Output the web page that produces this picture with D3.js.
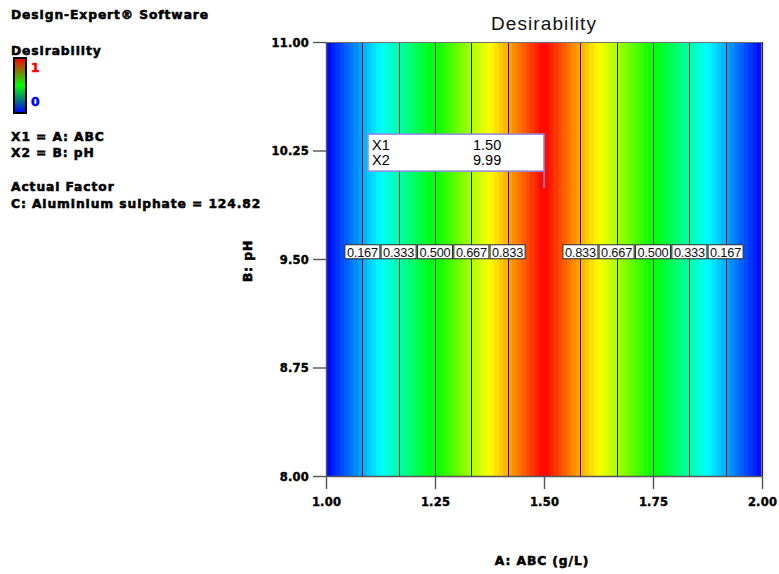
<!DOCTYPE html>
<html>
<head>
<meta charset="utf-8">
<script src="https://cdn.jsdelivr.net/npm/d3@7"></script>
<style>
  html, body { margin: 0; padding: 0; background: #fff; }
  svg { display: block; }
  .side { font-family: "DejaVu Sans", sans-serif; font-weight: bold; font-size: 12.3px; letter-spacing: 0.9px; stroke: #000; stroke-width: 0.55px; }
  .tick text { font-family: "DejaVu Sans", sans-serif; font-weight: bold; font-size: 11.5px; letter-spacing: 0.2px; stroke: #000; stroke-width: 0.4px; }
</style>
</head>
<body>
<svg id="chart" width="779" height="574"></svg>
<script>
// Desirability profile along A: ABC (breakpoints of the piecewise-linear response)
const abcKnots   = [1.00, 1.50, 2.00];
const desirKnots = [0.00, 1.00, 0.00];

// Contour levels drawn over the fill
const contourLevels = [0.167, 0.333, 0.500, 0.667, 0.833];

// Axis ticks
const xTicks = [1.00, 1.25, 1.50, 1.75, 2.00];
const yTicks = [8.00, 8.75, 9.50, 10.25, 11.00];

// Flagged design point
const flagNames  = ["X1", "X2"];
const flagValues = [1.50, 9.99];

// pH at which the contour labels sit
const labelPH = 9.55;

// Side panel text
const sideLines = [
  { text: "Design-Expert\u00AE Software", y: 19 },
  { text: "Desirability", y: 55 },
  { text: "X1 = A: ABC", y: 141 },
  { text: "X2 = B: pH", y: 157 },
  { text: "Actual Factor", y: 191 },
  { text: "C: Aluminium sulphate = 124.82", y: 208 }
];

const svg = d3.select("#chart");
const plot = { left: 326, right: 762, top: 42, bottom: 476 };

const x = d3.scaleLinear().domain([1.0, 2.0]).range([plot.left, plot.right]);
const y = d3.scaleLinear().domain([8.0, 11.0]).range([plot.bottom, plot.top]);

// Response along A from the knots
const desir = d3.scaleLinear().domain(abcKnots).range(desirKnots);

// Colour ramp: blue -> cyan -> green -> yellow -> red
const colour = d3.scaleLinear()
  .domain([0, 0.25, 0.5, 0.75, 1])
  .range(["#0000ff", "#00ffff", "#00ff00", "#ffff00", "#ff0000"])
  .interpolate(d3.interpolateRgb);

// Stepped colour fill: one strip per grid column
const nCols = 96;
const cols = d3.range(nCols).map(i => {
  const a0 = 1 + i / nCols, a1 = 1 + (i + 1) / nCols;
  return { a0, a1, d: desir((a0 + a1) / 2) };
});
svg.append("g").selectAll("rect").data(cols).join("rect")
  .attr("x", c => x(c.a0))
  .attr("y", plot.top)
  .attr("width", c => x(c.a1) - x(c.a0) + 0.6)
  .attr("height", plot.bottom - plot.top)
  .attr("fill", c => colour(c.d))
  .attr("shape-rendering", "crispEdges");

// Contour positions: invert each monotone segment of the profile
const contours = [];
for (let s = 0; s < abcKnots.length - 1; s++) {
  const seg = d3.scaleLinear()
    .domain([desirKnots[s], desirKnots[s + 1]])
    .range([abcKnots[s], abcKnots[s + 1]]);
  contourLevels.forEach(lv => contours.push({ level: lv, a: seg(lv) }));
}

svg.append("g").selectAll("line").data(contours).join("line")
  .attr("x1", c => Math.round(x(c.a)) + 0.5)
  .attr("x2", c => Math.round(x(c.a)) + 0.5)
  .attr("y1", plot.top)
  .attr("y2", plot.bottom)
  .attr("stroke", "#1c1c1c")
  .attr("stroke-width", 1);

// Frame (top and right)
svg.append("path")
  .attr("d", `M${plot.left},${plot.top + 0.5}H${plot.right - 0.5}V${plot.bottom}`)
  .attr("fill", "none").attr("stroke", "#707070").attr("stroke-width", 1.2);

// Axes
const xAxis = d3.axisBottom(x).tickValues(xTicks).tickFormat(d3.format(".2f"))
  .tickSize(13).tickSizeOuter(0).tickPadding(9);
const yAxis = d3.axisLeft(y).tickValues(yTicks).tickFormat(d3.format(".2f"))
  .tickSize(13).tickSizeOuter(0).tickPadding(4);

const gx = svg.append("g").attr("transform", `translate(0,${plot.bottom})`).call(xAxis);
const gy = svg.append("g").attr("transform", `translate(${plot.left},0)`).call(yAxis);
[gx, gy].forEach(g => {
  g.select(".domain").attr("stroke", "#555").attr("stroke-width", 1.4);
  g.selectAll(".tick line").attr("stroke", "#555").attr("stroke-width", 1.4);
  g.selectAll(".tick text").attr("fill", "#000");
});
gx.selectAll(".tick text").attr("dy", "0.71em");
gy.selectAll(".tick text").attr("dy", "0.36em");

// Contour labels
const lab = svg.append("g").selectAll("g").data(contours).join("g")
  .attr("transform", c => `translate(${x(c.a)},${y(labelPH)})`);
lab.append("rect")
  .attr("x", -17.5).attr("y", -7).attr("width", 35).attr("height", 14)
  .attr("fill", "#fff").attr("stroke", "#2a2a2a").attr("stroke-width", 1);
lab.append("text")
  .attr("text-anchor", "middle").attr("dy", "0.37em")
  .attr("font-family", "Liberation Sans, Arial, sans-serif")
  .attr("font-size", 12.8).attr("letter-spacing", "-0.2")
  .attr("fill", "#111")
  .text(c => d3.format(".3f")(c.level));

// Flag for the selected point
const fx = x(flagValues[0]), fy = y(flagValues[1]);
const flag = svg.append("g");
flag.append("line")
  .attr("x1", fx).attr("x2", fx).attr("y1", fy - 17).attr("y2", fy)
  .attr("stroke", "#8f86e6").attr("stroke-width", 1.5);
flag.append("rect")
  .attr("x", fx - 176).attr("y", fy - 54).attr("width", 176).attr("height", 37)
  .attr("fill", "#fff").attr("stroke", "#8f86e6").attr("stroke-width", 1.5);
const flagFmt = d3.format(".2f");
flagNames.forEach((n, i) => {
  flag.append("text")
    .attr("x", fx - 172).attr("y", fy - 38 + i * 15)
    .attr("font-family", "Liberation Sans, Arial, sans-serif").attr("font-size", 14.5)
    .text(n);
  flag.append("text")
    .attr("x", fx - 71).attr("y", fy - 38 + i * 15)
    .attr("font-family", "Liberation Sans, Arial, sans-serif").attr("font-size", 14.5)
    .text(flagFmt(flagValues[i]));
});

// Title
svg.append("text")
  .attr("x", (plot.left + plot.right) / 2).attr("y", 30)
  .attr("text-anchor", "middle")
  .attr("font-family", "Liberation Sans, Arial, sans-serif")
  .attr("font-size", 19).attr("letter-spacing", "1.1")
  .attr("fill", "#111")
  .text("Desirability");

// Axis titles
svg.append("text")
  .attr("class", "side")
  .attr("x", 542).attr("y", 565).attr("text-anchor", "middle")
  .text("A: ABC (g/L)");
svg.append("text")
  .attr("class", "side")
  .attr("transform", `translate(252,${y(9.5) + 2}) rotate(-90)`)
  .attr("text-anchor", "middle")
  .text("B: pH");

// Side panel
svg.append("g").selectAll("text").data(sideLines).join("text")
  .attr("class", "side")
  .attr("x", 11).attr("y", d => d.y)
  .text(d => d.text);

// Legend bar
const defs = svg.append("defs");
const grad = defs.append("linearGradient").attr("id", "legendGrad")
  .attr("x1", 0).attr("y1", 0).attr("x2", 0).attr("y2", 1);
grad.selectAll("stop").data([
  { o: 0, c: colour(1) }, { o: 0.5, c: colour(0.5) }, { o: 1, c: colour(0) }
]).join("stop").attr("offset", d => d.o).attr("stop-color", d => d.c);
svg.append("rect")
  .attr("x", 14).attr("y", 58).attr("width", 12).attr("height", 55)
  .attr("fill", "url(#legendGrad)").attr("stroke", "#000").attr("stroke-width", 2);
svg.append("text").attr("class", "side").attr("x", 31).attr("y", 72)
  .style("fill", "#ff0000").style("stroke", "#ff0000").text("1");
svg.append("text").attr("class", "side").attr("x", 31).attr("y", 106)
  .style("fill", "#0000ff").style("stroke", "#0000ff").text("0");
</script>
</body>
</html>
